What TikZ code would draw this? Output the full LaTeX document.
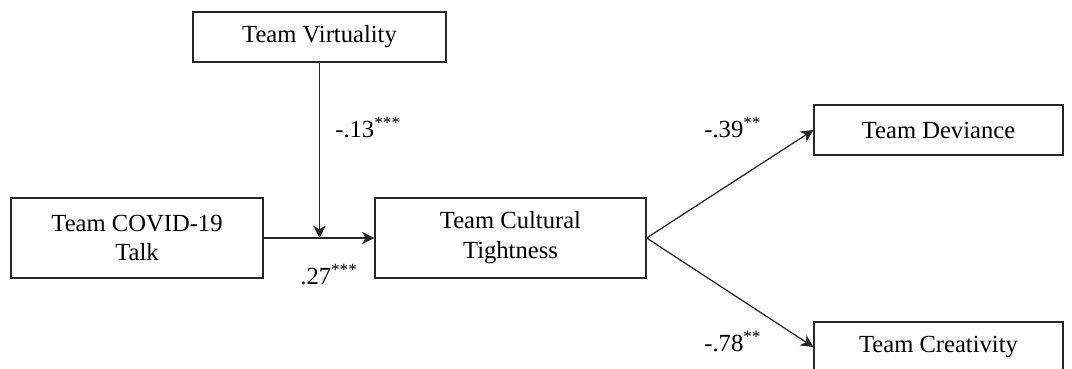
\documentclass[tikz,border=0pt]{standalone}
\usepackage{fontspec}
\setmainfont{Liberation Serif}
\usetikzlibrary{arrows.meta, positioning, calc}

\begin{document}
\begin{tikzpicture}[x=0.2mm, y=-0.2mm,
  var/.style={draw=black!85, line width=0.7pt, align=center, inner sep=0pt, font=\fontsize{14}{17}\selectfont},
  path/.style={draw=black!85, line width=0.7pt, -{Stealth[length=7pt, width=7pt, inset=2pt]}},
  coef/.style={inner sep=0pt, font=\fontsize{14}{17}\selectfont}]
  \useasboundingbox (0,0) rectangle (1072,369);
  % variables
  \node[var, minimum width=5.06cm, minimum height=1cm] (virt) at (319.5,37) {Team Virtuality};
  \node[var, minimum width=5.04cm, minimum height=1.6cm] (talk) at (137,238) {Team COVID-19\\Talk};
  \node[var, minimum width=5.42cm, minimum height=1.6cm] (tight) at (510.5,238) {Team Cultural\\Tightness};
  \node[var, minimum width=4.98cm, minimum height=1cm] (dev) at (938.5,130) {Team Deviance};
  \node[var, minimum width=4.98cm, minimum height=1cm] (crea) at (938.5,347) {Team Creativity};
  % paths
  \coordinate (join) at (virt.south |- talk.east);
  \draw[path] (talk.east) -- (tight.west);
  \draw[path] (virt.south) -- (join);
  \draw[path] (tight.east) -- (dev.west);
  \draw[path] (tight.east) -- (crea.west);
  % coefficients
  \node[coef, anchor=base west] (b13) at (335,138) {-.13\textsuperscript{***}};
  \node[coef, anchor=base west] (b27) at (300,285) {.27\textsuperscript{***}};
  \node[coef, anchor=base west] (b39) at (704,138) {-.39\textsuperscript{**}};
  \node[coef, anchor=base west] (b78) at (704,352) {-.78\textsuperscript{**}};
\end{tikzpicture}
\end{document}
